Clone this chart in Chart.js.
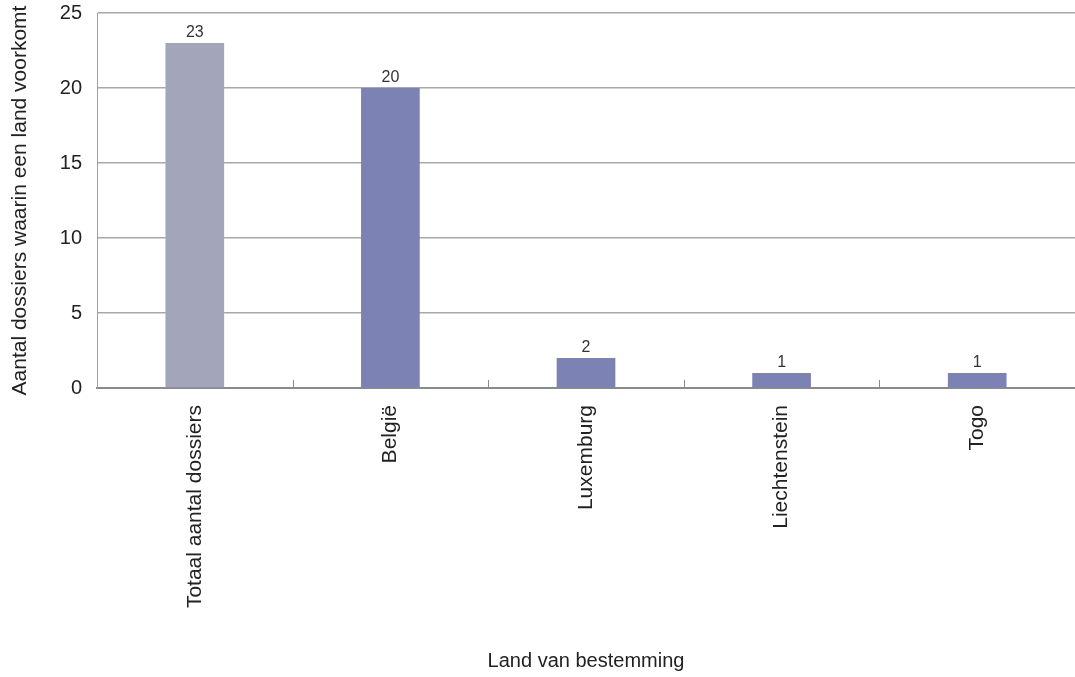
<!DOCTYPE html>
<html>
<head>
<meta charset="utf-8">
<script src="https://cdn.jsdelivr.net/npm/chart.js@4"></script>
<style>
  html, body { margin: 0; padding: 0; background: #fff; }
  #wrap { width: 1075px; height: 677px; }
</style>
</head>
<body>
<div id="wrap"><canvas id="chart"></canvas></div>
<script>
const landen = ['Totaal aantal dossiers', 'België', 'Luxemburg', 'Liechtenstein', 'Togo'];
const aantallen = [23, 20, 2, 1, 1];
const yTicks = [0, 5, 10, 15, 20, 25];

const barColors = ['#a3a5bb', '#7d82b5', '#7d82b5', '#7d82b5', '#7d82b5'];
const FONT = '"Liberation Sans", Arial, sans-serif';

// ── Value labels above bars ─────────────────────────────────────────
const valueLabels = {
  id: 'valueLabels',
  afterDatasetsDraw(chart) {
    const ctx = chart.ctx;
    const meta = chart.getDatasetMeta(0);
    ctx.save();
    ctx.font = '16px ' + FONT;
    ctx.fillStyle = '#333';
    ctx.textAlign = 'center';
    ctx.textBaseline = 'bottom';
    meta.data.forEach((bar, i) => {
      ctx.fillText(String(aantallen[i]), bar.x, bar.y - 2);
    });
    ctx.restore();
  }
};

// ── Category separators, pointing into the plot ─────────────────────
const innerTicks = {
  id: 'innerTicks',
  afterDatasetsDraw(chart) {
    const x = chart.scales.x;
    const ctx = chart.ctx;
    const half = (x.getPixelForValue(1) - x.getPixelForValue(0)) / 2;
    ctx.save();
    ctx.strokeStyle = '#8a8a8a';
    ctx.lineWidth = 1;
    for (let i = 0; i < landen.length - 1; i++) {
      const px = Math.round(x.getPixelForValue(i) + half) + 0.5;
      ctx.beginPath();
      ctx.moveTo(px, x.top);
      ctx.lineTo(px, x.top - 8);
      ctx.stroke();
    }
    ctx.restore();
  }
};

new Chart(document.getElementById('chart'), {
  type: 'bar',
  data: {
    labels: landen,
    datasets: [{
      data: aantallen,
      backgroundColor: barColors,
      borderWidth: 0,
      categoryPercentage: 1,
      barPercentage: 0.3
    }]
  },
  options: {
    responsive: true,
    maintainAspectRatio: false,
    animation: false,
    layout: { padding: { top: 13, right: 0, bottom: 0, left: 0 } },
    plugins: {
      legend: { display: false },
      tooltip: { enabled: false }
    },
    scales: {
      x: {
        afterFit: s => { s.height = 289; s.paddingLeft = 0; s.paddingRight = 0; },
        grid: { display: false, drawTicks: false },
        border: { display: true, color: '#8a8a8a', width: 2 },
        ticks: {
          color: '#222',
          font: { family: FONT, size: 21 },
          minRotation: 90,
          maxRotation: 90,
          padding: 17,
          autoSkip: false
        },
        title: {
          display: true,
          text: 'Land van bestemming',
          color: '#222',
          font: { family: FONT, size: 20 },
          padding: { top: 0, bottom: 4 }
        }
      },
      y: {
        min: 0,
        max: 25,
        afterFit: s => { s.width = 97; s.paddingTop = 0; s.paddingBottom = 0; },
        afterBuildTicks: s => { s.ticks = yTicks.map(v => ({ value: v })); },
        grid: { color: '#a8a8a8', lineWidth: 1.5, drawTicks: false },
        border: { display: true, color: '#a0a0a0', width: 1 },
        ticks: {
          color: '#222',
          font: { family: FONT, size: 20 },
          padding: 15
        },
        title: {
          display: true,
          text: 'Aantal dossiers waarin een land voorkomt',
          color: '#222',
          font: { family: FONT, size: 21 },
          padding: { top: 8, bottom: 0 }
        }
      }
    }
  },
  plugins: [valueLabels, innerTicks]
});
</script>
</body>
</html>
